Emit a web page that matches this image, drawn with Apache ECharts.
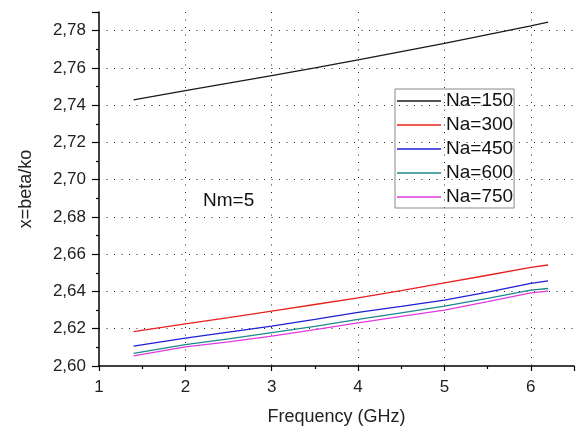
<!DOCTYPE html>
<html>
<head>
<meta charset="utf-8">
<script src="https://cdn.jsdelivr.net/npm/echarts@6/dist/echarts.min.js"></script>
<style>html,body{margin:0;padding:0;background:#fff;}#c{width:579px;height:426px;}</style>
</head>
<body>
<div id="c"></div>
<script>
const freq = [1.4, 2, 2.5, 3, 3.5, 4, 4.5, 5, 5.5, 6, 6.2];
const na150 = [2.7428, 2.7478, 2.7518, 2.7559, 2.7600, 2.7643, 2.7687, 2.7732, 2.7779, 2.7826, 2.7846];
const na300 = [2.6184, 2.6226, 2.6260, 2.6295, 2.6330, 2.6366, 2.6405, 2.6446, 2.6487, 2.6529, 2.6542];
const na450 = [2.6107, 2.6150, 2.6182, 2.6214, 2.6250, 2.6288, 2.6320, 2.6354, 2.6397, 2.6443, 2.6457];
const na600 = [2.6068, 2.6115, 2.6146, 2.6179, 2.6213, 2.6250, 2.6285, 2.6321, 2.6363, 2.6407, 2.6416];
const na750 = [2.6054, 2.6103, 2.6130, 2.6160, 2.6195, 2.6232, 2.6266, 2.6300, 2.6345, 2.6393, 2.6402];
const seriesNames = ['Na=150', 'Na=300', 'Na=450', 'Na=600', 'Na=750'];
const seriesData = [na150, na300, na450, na600, na750];
const colors = ['#1a1a1a', '#e8211d', '#1f1fd6', '#1a8a8a', '#e03ae0'];

const FONT = "'Liberation Sans', Arial, sans-serif";
const chart = echarts.init(document.getElementById('c'));
const gridLine = { show: true, showMinLine: false, showMaxLine: false, lineStyle: { color: '#222', width: 1, type: [1, 6.5] } };

chart.setOption({
  animation: false,
  backgroundColor: '#fff',
  grid: { left: 99, right: 5, top: 12, bottom: 60, containLabel: false, outerBoundsMode: 'none' },
  legend: {
    left: 395, top: 89, orient: 'vertical',
    data: seriesNames,
    icon: 'rect',
    itemWidth: 44, itemHeight: 1.5, itemGap: 4,
    padding: [2, 1, 1, 2],
    borderColor: '#888', borderWidth: 1,
    textStyle: { fontFamily: FONT, fontSize: 19, color: '#111', lineHeight: 20 }
  },
  xAxis: {
    type: 'value', min: 1, max: 6.5, interval: 1,
    name: 'Frequency (GHz)', nameLocation: 'middle', nameGap: 42,
    nameTextStyle: { fontFamily: FONT, fontSize: 18, color: '#222' },
    axisLine: { show: true, onZero: false, lineStyle: { color: '#000', width: 1.5 } },
    axisTick: { show: true, length: 5, lineStyle: { color: '#000', width: 1.2 } },
    minorTick: { show: true, splitNumber: 2, length: 3, lineStyle: { color: '#000', width: 1.2 } },
    axisLabel: { margin: 13, showMaxLabel: false, fontFamily: FONT, fontSize: 17, color: '#222',
      formatter: v => String(v) },
    splitLine: gridLine
  },
  yAxis: {
    type: 'value', min: 2.60, max: 2.79, interval: 0.02,
    name: 'x=beta/ko', nameLocation: 'middle', nameGap: 64, nameRotate: 90,
    nameTextStyle: { fontFamily: FONT, fontSize: 18, color: '#222' },
    axisLine: { show: true, onZero: false, lineStyle: { color: '#000', width: 1.5 } },
    axisTick: { show: true, length: 7, lineStyle: { color: '#000', width: 1.2 } },
    minorTick: { show: true, splitNumber: 2, length: 3, lineStyle: { color: '#000', width: 1.2 } },
    axisLabel: { margin: 13, showMaxLabel: false, fontFamily: FONT, fontSize: 17, color: '#222',
      formatter: v => v.toFixed(2).replace('.', ',') },
    splitLine: gridLine
  },
  graphic: [{
    type: 'text', left: 203, top: 191,
    style: { text: 'Nm=5', fontFamily: FONT, fontSize: 19, fill: '#111' }
  }],
  series: seriesNames.map((n, i) => ({
    name: n, type: 'line', symbol: 'none', smooth: false,
    data: freq.map((f, j) => [f, seriesData[i][j]]),
    lineStyle: { color: colors[i], width: 1.3 },
    itemStyle: { color: colors[i] }
  }))
});
</script>
</body>
</html>
